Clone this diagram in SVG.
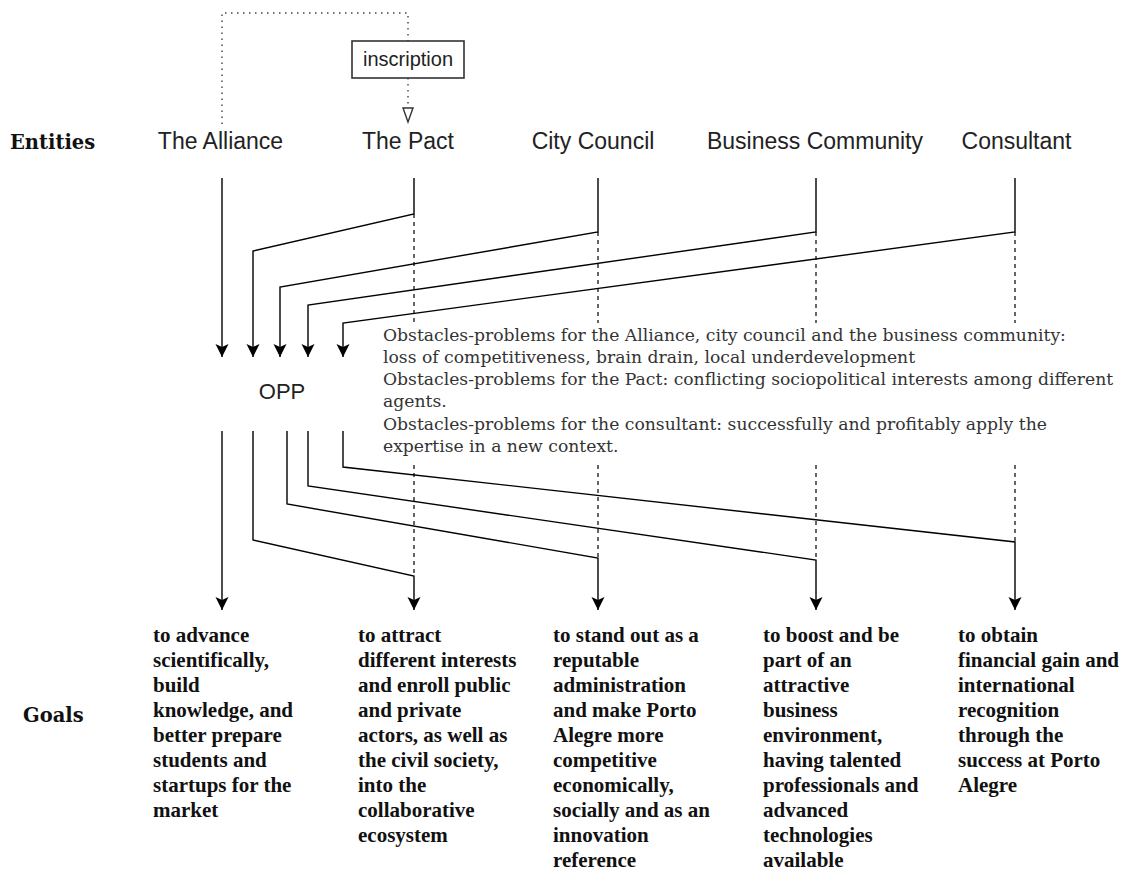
<svg xmlns="http://www.w3.org/2000/svg" width="1129" height="870" viewBox="0 0 1129 870">
  <style>
    .bg { fill: #ffffff; }
    .row { font-family: "DejaVu Serif", "Liberation Serif", serif; font-weight: bold; font-size: 19.5px; fill: #111; }
    .ent { font-family: "Liberation Sans", Arial, sans-serif; font-size: 23px; fill: #222; text-anchor: middle; }
    .opp { font-family: "Liberation Sans", Arial, sans-serif; font-size: 22px; fill: #222; text-anchor: middle; }
    .insc { font-family: "Liberation Sans", Arial, sans-serif; font-size: 20px; fill: #222; text-anchor: middle; }
    .obs { font-family: "DejaVu Serif", "Liberation Serif", serif; font-size: 17.2px; fill: #333; }
    .goal { font-family: "Liberation Serif", "Times New Roman", serif; font-weight: bold; font-size: 21px; fill: #111; }
    .flow { fill: none; stroke: #000; stroke-width: 1.4; marker-end: url(#arrow); }
    .trace { fill: none; stroke: #000; stroke-width: 1.2; stroke-dasharray: 4 4; }
    .dot { fill: none; stroke: #444; stroke-width: 1.4; stroke-dasharray: 1.5 4.5; }
    .box { fill: #fff; stroke: #333; stroke-width: 1.6; }
  </style>
  <defs>
    <marker id="arrow" markerUnits="userSpaceOnUse" markerWidth="14" markerHeight="14" refX="13" refY="6.5" orient="auto">
      <path d="M0,0 L13,6.5 L0,13 L3,6.5 Z" fill="#000"/>
    </marker>
    <marker id="open" markerUnits="userSpaceOnUse" markerWidth="17" markerHeight="13" refX="15" refY="5.5" orient="auto">
      <path d="M1,0.5 L15,5.5 L1,10.5 Z" fill="#fff" stroke="#333" stroke-width="1.4"/>
    </marker>
  </defs>

  <rect class="bg" x="0" y="0" width="1129" height="870"/>

  <!-- connectors -->
  <g id="connectors">
    <!-- inscription link from the Alliance to the Pact -->
    <path class="dot" d="M222,124 V13 H408 V41"/>
    <path class="dot" d="M408,78 V122" marker-end="url(#open)"/>

    <!-- entities converging on the OPP -->
    <path class="flow" d="M222,178 V357"/>
    <path class="flow" d="M414,178 V214 L253,251 V357"/>
    <path class="flow" d="M598,178 V232 L280,287 V357"/>
    <path class="flow" d="M816,178 V232 L308,305 V357"/>
    <path class="flow" d="M1015,178 V232 L343,323 V357"/>
    <path class="trace" d="M414,214 V323 M598,232 V323 M816,232 V323 M1015,232 V323"/>

    <!-- OPP branching out to the goals -->
    <path class="flow" d="M222,431 V610"/>
    <path class="flow" d="M253,431 V540 L414,576 V610"/>
    <path class="flow" d="M287,431 V504 L598,558 V610"/>
    <path class="flow" d="M308,431 V486 L816,560 V610"/>
    <path class="flow" d="M343,431 V467 L1015,542 V610"/>
    <path class="trace" d="M414,465 V576 M598,465 V558 M816,465 V560 M1015,465 V542"/>
  </g>

  <!-- row headings -->
  <g id="row-entities"><text class="row" x="10" y="149">Entities</text></g>
  <g id="row-goals"><text class="row" x="23" y="722">Goals</text></g>

  <!-- entities -->
  <g id="alliance"><text class="ent" x="220.5" y="149">The Alliance</text></g>
  <g id="pact"><text class="ent" x="408" y="149">The Pact</text></g>
  <g id="city-council"><text class="ent" x="593" y="149">City Council</text></g>
  <g id="business-community"><text class="ent" x="815" y="149">Business Community</text></g>
  <g id="consultant"><text class="ent" x="1016.5" y="149">Consultant</text></g>

  <g id="inscription">
    <rect class="box" x="352" y="41" width="112" height="37"/>
    <text class="insc" x="408" y="66">inscription</text>
  </g>

  <g id="opp"><text class="opp" x="282" y="399">OPP</text></g>

  <g id="obstacles">
    <text class="obs" x="383">
      <tspan x="383" y="341">Obstacles-problems for the Alliance, city council and the business community:</tspan>
      <tspan x="383" y="363">loss of competitiveness, brain drain, local underdevelopment</tspan>
      <tspan x="383" y="385">Obstacles-problems for the Pact: conflicting sociopolitical interests among different</tspan>
      <tspan x="383" y="407">agents.</tspan>
      <tspan x="383" y="430">Obstacles-problems for the consultant: successfully and profitably apply the</tspan>
      <tspan x="383" y="452">expertise in a new context.</tspan>
    </text>
  </g>

  <!-- goals -->
  <g id="goal-alliance">
    <text class="goal">
      <tspan x="153" y="642">to advance</tspan>
      <tspan x="153" y="667">scientifically,</tspan>
      <tspan x="153" y="692">build</tspan>
      <tspan x="153" y="717">knowledge, and</tspan>
      <tspan x="153" y="742">better prepare</tspan>
      <tspan x="153" y="767">students and</tspan>
      <tspan x="153" y="792">startups for the</tspan>
      <tspan x="153" y="817">market</tspan>
    </text>
  </g>
  <g id="goal-pact">
    <text class="goal">
      <tspan x="358" y="642">to attract</tspan>
      <tspan x="358" y="667">different interests</tspan>
      <tspan x="358" y="692">and enroll public</tspan>
      <tspan x="358" y="717">and private</tspan>
      <tspan x="358" y="742">actors, as well as</tspan>
      <tspan x="358" y="767">the civil society,</tspan>
      <tspan x="358" y="792">into the</tspan>
      <tspan x="358" y="817">collaborative</tspan>
      <tspan x="358" y="842">ecosystem</tspan>
    </text>
  </g>
  <g id="goal-city-council">
    <text class="goal">
      <tspan x="553" y="642">to stand out as a</tspan>
      <tspan x="553" y="667">reputable</tspan>
      <tspan x="553" y="692">administration</tspan>
      <tspan x="553" y="717">and make Porto</tspan>
      <tspan x="553" y="742">Alegre more</tspan>
      <tspan x="553" y="767">competitive</tspan>
      <tspan x="553" y="792">economically,</tspan>
      <tspan x="553" y="817">socially and as an</tspan>
      <tspan x="553" y="842">innovation</tspan>
      <tspan x="553" y="867">reference</tspan>
    </text>
  </g>
  <g id="goal-business-community">
    <text class="goal">
      <tspan x="763" y="642">to boost and be</tspan>
      <tspan x="763" y="667">part of an</tspan>
      <tspan x="763" y="692">attractive</tspan>
      <tspan x="763" y="717">business</tspan>
      <tspan x="763" y="742">environment,</tspan>
      <tspan x="763" y="767">having talented</tspan>
      <tspan x="763" y="792">professionals and</tspan>
      <tspan x="763" y="817">advanced</tspan>
      <tspan x="763" y="842">technologies</tspan>
      <tspan x="763" y="867">available</tspan>
    </text>
  </g>
  <g id="goal-consultant">
    <text class="goal">
      <tspan x="958" y="642">to obtain</tspan>
      <tspan x="958" y="667">financial gain and</tspan>
      <tspan x="958" y="692">international</tspan>
      <tspan x="958" y="717">recognition</tspan>
      <tspan x="958" y="742">through the</tspan>
      <tspan x="958" y="767">success at Porto</tspan>
      <tspan x="958" y="792">Alegre</tspan>
    </text>
  </g>
</svg>
